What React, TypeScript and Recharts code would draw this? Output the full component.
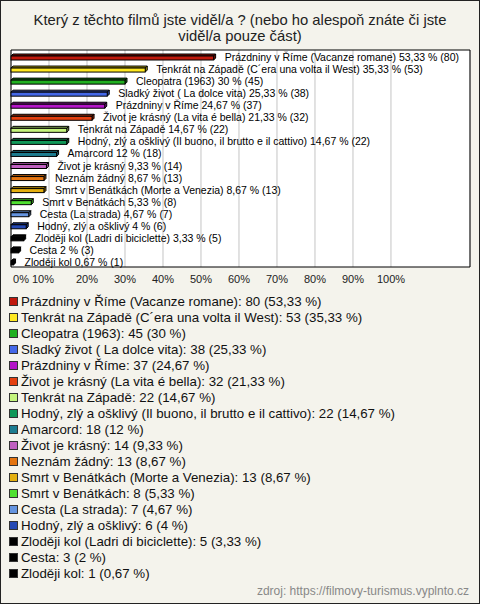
import { BarChart, Bar, XAxis, YAxis, CartesianGrid, Legend, LabelList, ReferenceArea, Cell } from 'recharts';

const films = [
  'Prázdniny v Říme (Vacanze romane)',
  'Tenkrát na Západě (C´era una volta il West)',
  'Cleopatra (1963)',
  'Sladký život ( La dolce vita)',
  'Prázdniny v Říme',
  'Život je krásný (La vita é bella)',
  'Tenkrát na Západě',
  'Hodný, zlý a ošklivý (Il buono, il brutto e il cattivo)',
  'Amarcord',
  'Život je krásný',
  'Neznám žádný',
  'Smrt v Benátkách (Morte a Venezia)',
  'Smrt v Benátkách',
  'Cesta (La strada)',
  'Hodný, zlý a ošklivý',
  'Zloději kol (Ladri di biciclette)',
  'Cesta',
  'Zloději kol',
];
const percents = [53.33, 35.33, 30, 25.33, 24.67, 21.33, 14.67, 14.67, 12, 9.33, 8.67, 8.67, 5.33, 4.67, 4, 3.33, 2, 0.67];
const votes = [80, 53, 45, 38, 37, 32, 22, 22, 18, 14, 13, 13, 8, 7, 6, 5, 3, 1];
const colors = [
  '#c0180c', '#ffe820', '#20b020', '#4468e8', '#b414c8', '#e44010',
  '#c4f47c', '#109858', '#1c7c90', '#c060c0', '#e47410', '#e4b010',
  '#50e030', '#6494e0', '#2448b4', '#000000', '#000000', '#000000',
];
const xTicks = [0, 10, 20, 30, 40, 50, 60, 70, 80, 90, 100];
const X_MAX = 120.8;

const fmt = (v: number) => String(v).replace('.', ',');

const rows = films.map((name, i) => ({ name, pct: percents[i], votes: votes[i] }));

const FONT = '"Liberation Sans", Arial, sans-serif';

function shade(hex: string, k: number) {
  const n = parseInt(hex.slice(1), 16);
  const r = Math.round(((n >> 16) & 255) * k);
  const g = Math.round(((n >> 8) & 255) * k);
  const b = Math.round((n & 255) * k);
  return `rgb(${r},${g},${b})`;
}

function Bar3D(props: any) {
  const { x, y, width, height, fill } = props;
  const d = 2;
  const w = Math.max(width, 0);
  const top = y + 2;
  const side = shade(fill, 0.7);
  return (
    <g stroke="#000" strokeWidth={1}>
      <polygon points={`${x},${top} ${x + d},${top - d} ${x + w + d},${top - d} ${x + w},${top}`} fill={side} />
      <polygon points={`${x + w},${top} ${x + w + d},${top - d} ${x + w + d},${top + height - d} ${x + w},${top + height}`} fill={side} />
      <rect x={x} y={top} width={w} height={height} fill={fill} />
    </g>
  );
}

function BarLabel(props: any) {
  const { x, y, width, height, index } = props;
  const r = rows[index];
  return (
    <text
      x={x + width + 11}
      y={y + height / 2 + 1}
      dominantBaseline="central"
      fontSize={10.5}
      fontFamily={FONT}
      fill="#000"
    >
      {`${r.name} ${fmt(r.pct)} % (${r.votes})`}
    </text>
  );
}

function PctTick(props: any) {
  const { x, y, payload } = props;
  const shift = payload.value === 0 ? 10 : payload.value === 10 ? -6 : 0;
  return (
    <text x={x + shift} y={y + 8} textAnchor="middle" fontSize={11} fontFamily={FONT} fill="#222">
      {`${payload.value}%`}
    </text>
  );
}

function LegendList() {
  return (
    <div style={{ fontFamily: FONT, fontSize: 13.3, color: '#111' }}>
      {rows.map((r, i) => (
        <div key={i} style={{ height: 16, display: 'flex', alignItems: 'center', whiteSpace: 'nowrap' }}>
          <span
            style={{
              display: 'inline-block',
              width: 7,
              height: 7,
              background: colors[i],
              border: '1px solid #333',
              marginRight: 3,
            }}
          />
          {`${r.name}: ${r.votes} (${fmt(r.pct)} %)`}
        </div>
      ))}
    </div>
  );
}

export default function App() {
  return (
    <div
      style={{
        position: 'relative',
        width: 480,
        height: 604,
        background: '#f4f3ec',
        boxShadow: 'inset 0 0 0 1px #222',
        fontFamily: FONT,
      }}
    >
      <style>{'body{margin:0}'}</style>
      <div
        style={{
          position: 'absolute',
          top: 12,
          left: 0,
          width: 480,
          textAlign: 'center',
          fontSize: 14.8,
          lineHeight: '16px',
          color: '#222',
        }}
      >
        Který z těchto filmů jste viděl/a ? (nebo ho alespoň znáte či jste
        <br />
        viděl/a pouze část)
      </div>
      <BarChart
        width={480}
        height={604}
        layout="vertical"
        data={rows}
        margin={{ top: 50, right: 10, bottom: 317, left: 11 }}
        style={{ position: 'absolute', top: 0, left: 0 }}
      >
        <CartesianGrid horizontal={false} stroke="#c4c4c4" fill="#fff" />
        <XAxis
          type="number"
          domain={[0, X_MAX]}
          ticks={xTicks}
          axisLine={false}
          tickLine={false}
          height={20}
          tick={<PctTick />}
        />
        <YAxis type="category" dataKey="name" hide />
        <ReferenceArea x1={0} x2={X_MAX} fill="none" stroke="#000" strokeWidth={1} ifOverflow="visible" />
        <Bar dataKey="pct" barSize={4} shape={<Bar3D />} isAnimationActive={false}>
          {rows.map((_, i) => (
            <Cell key={i} fill={colors[i]} />
          ))}
          <LabelList dataKey="pct" content={<BarLabel />} />
        </Bar>
        <Legend
          layout="vertical"
          align="center"
          verticalAlign="middle"
          content={<LegendList />}
          wrapperStyle={{ top: 293, left: 9, bottom: 'auto', width: 460, height: 'auto' }}
        />
      </BarChart>
      <div
        style={{
          position: 'absolute',
          right: 11,
          top: 584,
          fontSize: 12,
          color: '#888',
        }}
      >
        zdroj: https://filmovy-turismus.vyplnto.cz
      </div>
    </div>
  );
}
